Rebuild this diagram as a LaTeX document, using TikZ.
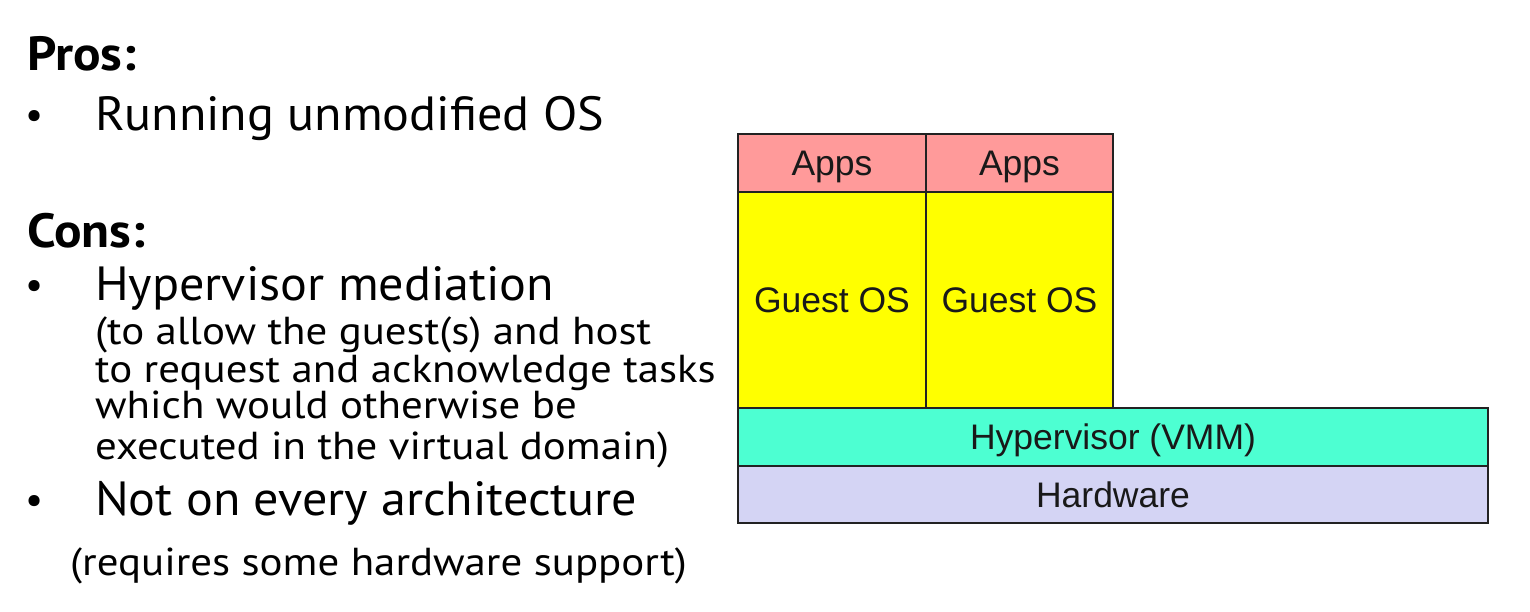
\documentclass[tikz,border=0pt]{standalone}
\usepackage{fontspec}
\setmainfont{PT Sans}
\newfontfamily\bigf[FakeStretch=1.045]{PT Sans}
\newfontfamily\smallf[FakeStretch=1.1]{PT Sans}
\newfontfamily\headf[FakeStretch=1.07]{PT Sans Bold}
\newfontfamily\arialf{Liberation Sans}
\definecolor{appsc}{HTML}{FF9A9A}
\definecolor{guestc}{HTML}{FFFF00}
\definecolor{hypc}{HTML}{4DFFD2}
\definecolor{hwc}{HTML}{D4D4F4}
\definecolor{edgec}{HTML}{222222}
\begin{document}
\begin{tikzpicture}[x=1pt,y=-1pt,
  layer/.style={draw=edgec, line width=2pt, anchor=north west, inner sep=0pt,
    text height=25pt, text depth=0pt,
    font=\arialf\fontsize{35.5}{40}\selectfont, text=black!90},
  big/.style={anchor=base west, inner sep=0pt, font=\bigf\fontsize{48}{56}\selectfont},
  head/.style={anchor=base west, inner sep=0pt, font=\headf\fontsize{48}{56}\selectfont},
  small/.style={anchor=base west, inner sep=0pt, text depth=6pt, font=\smallf\fontsize{39}{44}\selectfont},
  dot/.style={anchor=base west, inner sep=0pt, font=\fontsize{40}{44}\selectfont}]
\useasboundingbox[fill=white] (0,0) rectangle (1530,611);
% left text
\node[head] (pros) at (27,70) {Pros:};
\node[dot] (b1) at (25,128) {•};
\node[big] (t1) at (95,130) {Running unmodified OS};
\node[head] (cons) at (27,247) {Cons:};
\node[dot] (b2) at (25,298) {•};
\node[big] (t2) at (95,300) {Hypervisor mediation};
\node[small] (s1) at (95,344) {(to allow the guest(s) and host};
\node[small] (s2) at (95,382) {to request and acknowledge tasks};
\node[small] (s3) at (95,418) {which would otherwise be};
\node[small] (s4) at (95,459) {executed in the virtual domain)};
\node[dot] (b3) at (25,513) {•};
\node[big] (t3) at (95,515) {Not on every architecture};
\node[small] (s5) at (70,575) {(requires some hardware support)};
% diagram
\node[layer, fill=guestc, minimum width=188pt, minimum height=216pt] (g1) at (737,191) {Guest OS};
\node[layer, fill=guestc, minimum width=187pt, minimum height=216pt] (g2) at (925,191) {Guest OS};
\node[layer, fill=appsc, minimum width=188pt, minimum height=58pt] (a1) at (737,133) {Apps};
\node[layer, fill=appsc, minimum width=187pt, minimum height=58pt] (a2) at (925,133) {Apps};
\node[layer, fill=hwc, minimum width=750pt, minimum height=57pt] (hw) at (737,465) {Hardware};
\node[layer, fill=hypc, minimum width=750pt, minimum height=58pt] (hyp) at (737,407) {Hypervisor (VMM)};
\end{tikzpicture}
\end{document}
